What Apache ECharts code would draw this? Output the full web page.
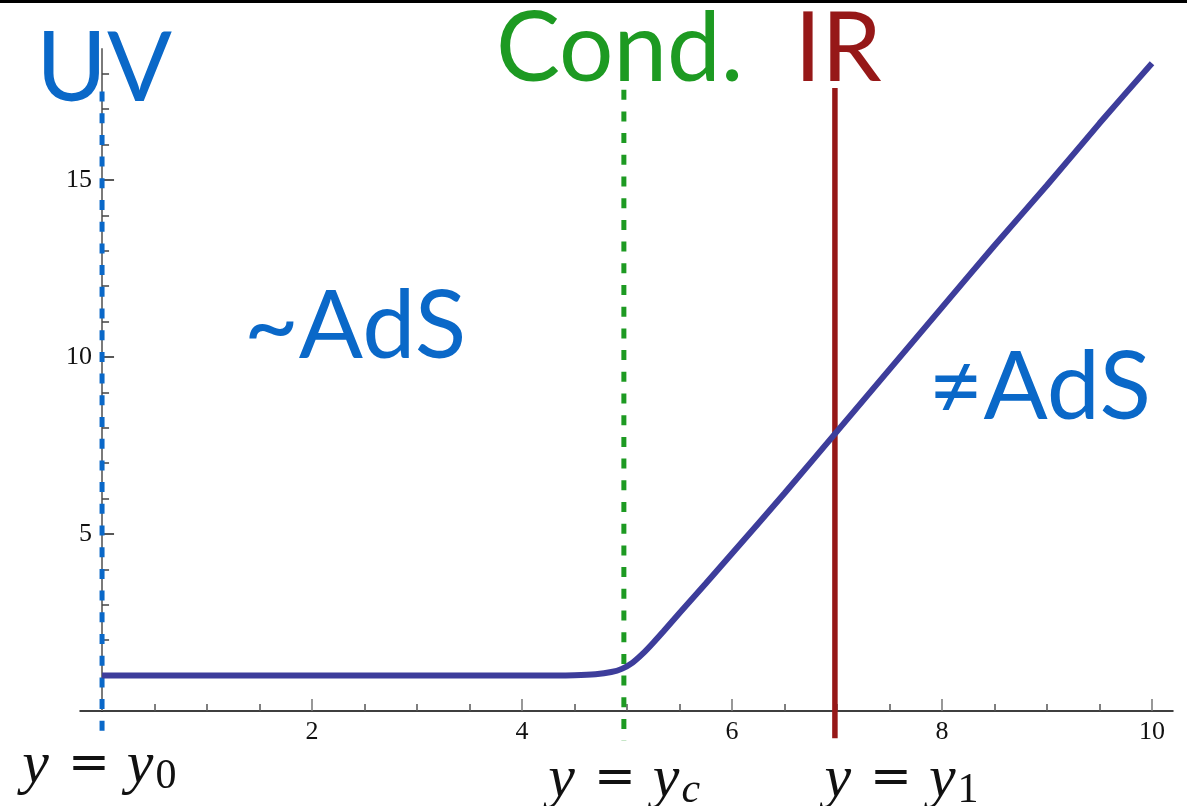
<!DOCTYPE html>
<html>
<head>
<meta charset="utf-8">
<script src="https://cdn.jsdelivr.net/npm/echarts@6/dist/echarts.min.js"></script>
<style>
  html, body { margin: 0; padding: 0; background: #fff; }
  #chart { width: 1187px; height: 806px; }
</style>
</head>
<body>
<div id="chart"></div>
<script>
// Warp factor profile along the radial coordinate y
const curveX = [0, 0.5, 1, 1.5, 2, 2.5, 3, 3.5, 4, 4.25, 4.5, 4.7, 4.85, 4.95, 5.05, 5.15, 5.25, 5.35, 5.5, 5.75, 6.0, 6.5, 7.0, 7.5, 8.0, 8.5, 9.0, 9.5, 10.0];
const curveY = [1, 1, 1, 1, 1, 1, 1, 1, 1, 1.003, 1.012, 1.04, 1.1, 1.19, 1.36, 1.62, 1.93, 2.26, 2.77, 3.6, 4.45, 6.15, 7.9, 9.65, 11.4, 13.15, 14.85, 16.6, 18.3];

// Vertical markers: UV boundary, condensate position, IR cut-off
const markerX = [0, 4.97, 6.98];
const markerTop = [17.5, 17.55, 17.6];
const markerBottom = [-0.88, -0.85, -0.77];
const markerColor = ['#0a68c8', '#1d9a22', '#961818'];
const markerDash = ['dashed', 'dashed', 'solid'];

// Axis tick values
const xMajor = [0, 2, 4, 6, 8, 10];
const xLabels = [2, 4, 6, 8, 10];
const xMinor = [0.5, 1, 1.5, 2.5, 3, 3.5, 4.5, 5, 5.5, 6.5, 7, 7.5, 8.5, 9, 9.5];
const yLabels = [5, 10, 15];
const yMinor = [1, 2, 3, 4, 6, 7, 8, 9, 11, 12, 13, 14, 16, 17, 18];

// Text annotations (anchored in data coordinates)
const headers = [
  { text: 'UV', x: 0.02, y: 18.1, color: '#0a68c8' },
  { text: 'Cond.', x: 4.93, y: 18.68, color: '#1d9a22' },
  { text: 'IR', x: 7.01, y: 18.68, color: '#961818' }
];
const regions = [
  { text: '~AdS', x: 2.41, y: 10.85, color: '#0a68c8' },
  { text: '\u2260AdS', x: 8.93, y: 9.1, color: '#0a68c8' }
];
const positions = [
  { sub: '0', x: -0.76, y: -1.55 },
  { sub: 'c', x: 4.25, y: -1.95 },
  { sub: '1', x: 6.88, y: -1.95 }
];

const X_MIN = -0.21, X_MAX = 10.2, Y_MIN = 0, Y_MAX = 18.7;
const serif = '"Liberation Serif", "DejaVu Serif", serif';

const chart = echarts.init(document.getElementById('chart'));

const markerSeries = markerX.map((x, i) => ({
  type: 'line',
  xAxisIndex: 0,
  yAxisIndex: 0,
  data: [[x, markerTop[i]], [x, markerBottom[i]]],
  symbol: 'none',
  clip: false,
  silent: true,
  z: 3,
  lineStyle: {
    color: markerColor[i],
    width: markerDash[i] === 'solid' ? 5.5 : 5,
    type: markerDash[i] === 'solid' ? 'solid' : [10, 11.7]
  }
}));

chart.setOption({
  animation: false,
  backgroundColor: '#ffffff',
  grid: { left: 80, right: 14, top: 49, bottom: 95, containLabel: false },
  xAxis: [
    {
      type: 'value', min: X_MIN, max: X_MAX, position: 'bottom',
      axisLine: { show: true, onZero: true, lineStyle: { color: '#000', width: 1.5 } },
      axisTick: { show: true, inside: true, length: 12, customValues: xMajor, lineStyle: { color: '#777', width: 1.5 } },
      axisLabel: { show: true, customValues: xLabels, margin: 8, color: '#111', fontFamily: serif, fontSize: 26 },
      splitLine: { show: false }
    },
    {
      type: 'value', min: X_MIN, max: X_MAX, position: 'bottom',
      axisLine: { show: true, onZero: true, lineStyle: { color: '#000', width: 0, opacity: 0 } },
      axisTick: { show: true, inside: true, length: 7, customValues: xMinor, lineStyle: { color: '#555', width: 1.5 } },
      axisLabel: { show: false },
      splitLine: { show: false }
    }
  ],
  yAxis: [
    {
      type: 'value', min: Y_MIN, max: Y_MAX, position: 'left',
      axisLine: { show: true, onZero: true, lineStyle: { color: '#7a7a7a', width: 2 } },
      axisTick: { show: true, inside: true, length: 12, customValues: yLabels, lineStyle: { color: '#222', width: 1.5 } },
      axisLabel: { show: true, customValues: yLabels, margin: -12, color: '#111', fontFamily: serif, fontSize: 26 },
      splitLine: { show: false }
    },
    {
      type: 'value', min: Y_MIN, max: Y_MAX, position: 'left',
      axisLine: { show: true, onZero: true, lineStyle: { color: '#000', width: 0, opacity: 0 } },
      axisTick: { show: true, inside: true, length: 7, customValues: yMinor, lineStyle: { color: '#444', width: 1.5 } },
      axisLabel: { show: false },
      splitLine: { show: false }
    }
  ],
  series: [
    {
      type: 'line',
      xAxisIndex: 0,
      yAxisIndex: 0,
      data: curveX.map((x, i) => [x, curveY[i]]),
      symbol: 'none',
      smooth: 0.25,
      z: 4,
      lineStyle: { color: '#3d3d9b', width: 6, cap: 'butt' }
    }
  ].concat(markerSeries)
});

// Place the annotations once the axes are laid out
function px(x, y) {
  return chart.convertToPixel({ xAxisIndex: 0, yAxisIndex: 0 }, [x, y]);
}

const graphics = [
  {
    type: 'rect', left: 0, top: 0, z: 100,
    shape: { width: 1187, height: 3 },
    style: { fill: '#000' }
  }
];

headers.forEach(h => {
  const p = px(h.x, h.y);
  graphics.push({
    type: 'text', x: p[0], y: p[1], z: 50,
    style: {
      text: h.text, fill: h.color, align: 'center', verticalAlign: 'middle',
      font: '96px Lato, "Open Sans", sans-serif'
    }
  });
});

regions.forEach(r => {
  const p = px(r.x, r.y);
  graphics.push({
    type: 'text', x: p[0], y: p[1], z: 50,
    style: {
      text: r.text, fill: r.color, align: 'center', verticalAlign: 'middle',
      font: '95px Lato, "Open Sans", sans-serif'
    }
  });
});

const ink = '#111';
positions.forEach(q => {
  const p = px(q.x, q.y);
  graphics.push({
    type: 'text', x: p[0], y: p[1], z: 50,
    style: {
      text: '{v|y}{e|=}{v|y}{s|' + q.sub + '}',
      align: 'left', verticalAlign: 'middle',
      rich: {
        v: { fontFamily: serif, fontStyle: 'italic', fontSize: 60, fill: ink },
        e: { fontFamily: '"DejaVu Serif", serif', fontSize: 50, fill: ink, padding: [0, 17, 0, 19] },
        s: { fontFamily: serif, fontStyle: q.sub === 'c' ? 'italic' : 'normal', fontSize: 42, fill: ink, padding: [22, 0, 0, 2] }
      }
    }
  });
});

chart.setOption({ graphic: graphics });
</script>
</body>
</html>
